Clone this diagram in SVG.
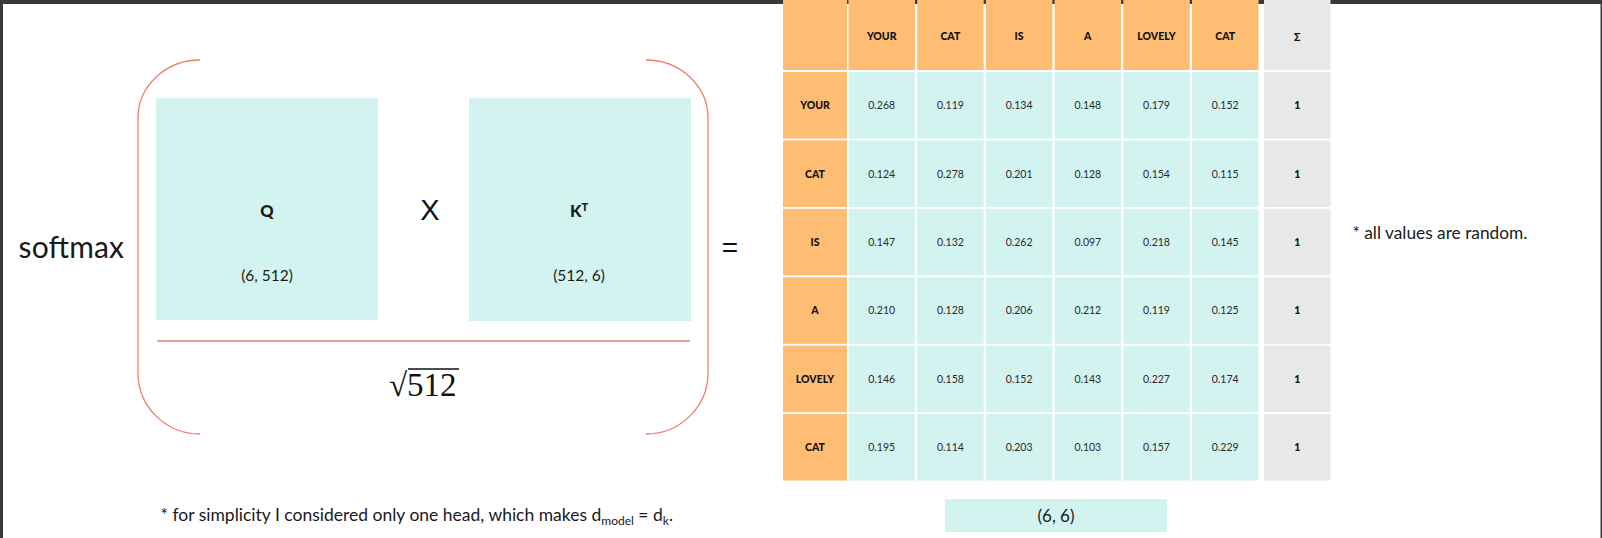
<svg xmlns="http://www.w3.org/2000/svg" width="1602" height="538" viewBox="0 0 1602 538">
<style>
.t{font-family:Lato,"Liberation Sans",sans-serif;fill:#1a1a1a}
.h{font-family:Lato,"Liberation Sans",sans-serif;font-weight:900;font-size:10.5px;fill:#111;text-anchor:middle}
.v{font-family:Lato,"Liberation Sans",sans-serif;font-size:10.5px;fill:#2a2a2a;text-anchor:middle}
.s{font-family:Lato,"Liberation Sans",sans-serif;font-weight:900;font-size:10.5px;fill:#111;text-anchor:middle}
.or{fill:#FEBD72}
.cy{fill:#D2F3F0}
.gr{fill:#E8E8E8}
.br{fill:none;stroke:#EE7F6E;stroke-width:1.3}
</style>
<rect width="1602" height="538" fill="#fff"/>
<rect x="0" y="0" width="1602" height="4" fill="#3a3a3a"/>
<rect x="0" y="0" width="3" height="538" fill="#3a3a3a"/>
<rect x="1600.5" y="0" width="1.5" height="538" fill="#3a3a3a"/>

<text class="t" x="18.5" y="257.5" font-size="30" textLength="105.5">softmax</text>

<g id="connectors">
<path class="br" d="M200,60 A62,58 0 0 0 138,118 L138,373 A62,61 0 0 0 200,434"/>
<path class="br" d="M646,60 A62,58 0 0 1 708,118 L708,373 A62,61 0 0 1 646,434"/>
<path class="br" d="M157,341 H690" stroke-width="1"/>
</g>

<g id="Q">
<rect class="cy" x="156" y="98" width="222" height="222"/>
<text class="t" x="267" y="216.5" font-size="16.5" font-weight="900" text-anchor="middle">Q</text>
<text class="t" x="267" y="281" font-size="15.5" text-anchor="middle">(6, 512)</text>
</g>
<text x="430" y="220" font-family="Liberation Sans,sans-serif" font-size="29" fill="#111" text-anchor="middle">X</text>
<g id="KT">
<rect class="cy" x="469" y="98" width="222" height="223"/>
<text class="t" x="579" y="216.5" font-size="16.5" font-weight="900" text-anchor="middle">K<tspan font-size="11" dy="-6">T</tspan></text>
<text class="t" x="579" y="281" font-size="15.5" text-anchor="middle">(512, 6)</text>
</g>
<g id="sqrt">
<text x="389" y="396" font-family="Liberation Serif,serif" font-size="33" fill="#111">√512</text>
<line x1="408" y1="369" x2="459" y2="369" stroke="#111" stroke-width="1.6"/>
</g>
<text x="730" y="257" font-family="Liberation Sans,sans-serif" font-size="28" fill="#111" text-anchor="middle">=</text>

<g id="table">
<rect class="or" x="783" y="0" width="64" height="70"/>
<rect class="or" x="848.5" y="0" width="66.5" height="70"/>
<rect class="or" x="917.2" y="0" width="66.5" height="70"/>
<rect class="or" x="985.9" y="0" width="66.5" height="70"/>
<rect class="or" x="1054.6" y="0" width="66.5" height="70"/>
<rect class="or" x="1123.3" y="0" width="66.5" height="70"/>
<rect class="or" x="1192" y="0" width="66.5" height="70"/>
<rect class="gr" x="1264" y="0" width="66.5" height="70"/>
<g>
<text class="h" x="881.7" y="40">YOUR</text>
<text class="h" x="950.4" y="40">CAT</text>
<text class="h" x="1019.1" y="40">IS</text>
<text class="h" x="1087.8" y="40">A</text>
<text class="h" x="1156.5" y="40">LOVELY</text>
<text class="h" x="1225.2" y="40">CAT</text>
<text class="h" x="1297.2" y="41" font-size="13" font-weight="400">Σ</text>
</g>

<g id="row1">
<rect class="or" x="783" y="72" width="64" height="66.6"/>
<rect class="cy" x="848.5" y="72" width="66.5" height="66.6"/><rect class="cy" x="917.2" y="72" width="66.5" height="66.6"/><rect class="cy" x="985.9" y="72" width="66.5" height="66.6"/><rect class="cy" x="1054.6" y="72" width="66.5" height="66.6"/><rect class="cy" x="1123.3" y="72" width="66.5" height="66.6"/><rect class="cy" x="1192" y="72" width="66.5" height="66.6"/>
<rect class="gr" x="1264" y="72" width="66.5" height="66.6"/>
<text class="h" x="815" y="109">YOUR</text>
<text class="v" x="881.7" y="109">0.268</text><text class="v" x="950.4" y="109">0.119</text><text class="v" x="1019.1" y="109">0.134</text><text class="v" x="1087.8" y="109">0.148</text><text class="v" x="1156.5" y="109">0.179</text><text class="v" x="1225.2" y="109">0.152</text>
<text class="s" x="1297.2" y="109">1</text>
</g>
<g id="row2">
<rect class="or" x="783" y="140.4" width="64" height="66.6"/>
<rect class="cy" x="848.5" y="140.4" width="66.5" height="66.6"/><rect class="cy" x="917.2" y="140.4" width="66.5" height="66.6"/><rect class="cy" x="985.9" y="140.4" width="66.5" height="66.6"/><rect class="cy" x="1054.6" y="140.4" width="66.5" height="66.6"/><rect class="cy" x="1123.3" y="140.4" width="66.5" height="66.6"/><rect class="cy" x="1192" y="140.4" width="66.5" height="66.6"/>
<rect class="gr" x="1264" y="140.4" width="66.5" height="66.6"/>
<text class="h" x="815" y="178">CAT</text>
<text class="v" x="881.7" y="178">0.124</text><text class="v" x="950.4" y="178">0.278</text><text class="v" x="1019.1" y="178">0.201</text><text class="v" x="1087.8" y="178">0.128</text><text class="v" x="1156.5" y="178">0.154</text><text class="v" x="1225.2" y="178">0.115</text>
<text class="s" x="1297.2" y="178">1</text>
</g>
<g id="row3">
<rect class="or" x="783" y="208.8" width="64" height="66.6"/>
<rect class="cy" x="848.5" y="208.8" width="66.5" height="66.6"/><rect class="cy" x="917.2" y="208.8" width="66.5" height="66.6"/><rect class="cy" x="985.9" y="208.8" width="66.5" height="66.6"/><rect class="cy" x="1054.6" y="208.8" width="66.5" height="66.6"/><rect class="cy" x="1123.3" y="208.8" width="66.5" height="66.6"/><rect class="cy" x="1192" y="208.8" width="66.5" height="66.6"/>
<rect class="gr" x="1264" y="208.8" width="66.5" height="66.6"/>
<text class="h" x="815" y="246">IS</text>
<text class="v" x="881.7" y="246">0.147</text><text class="v" x="950.4" y="246">0.132</text><text class="v" x="1019.1" y="246">0.262</text><text class="v" x="1087.8" y="246">0.097</text><text class="v" x="1156.5" y="246">0.218</text><text class="v" x="1225.2" y="246">0.145</text>
<text class="s" x="1297.2" y="246">1</text>
</g>
<g id="row4">
<rect class="or" x="783" y="277.2" width="64" height="66.6"/>
<rect class="cy" x="848.5" y="277.2" width="66.5" height="66.6"/><rect class="cy" x="917.2" y="277.2" width="66.5" height="66.6"/><rect class="cy" x="985.9" y="277.2" width="66.5" height="66.6"/><rect class="cy" x="1054.6" y="277.2" width="66.5" height="66.6"/><rect class="cy" x="1123.3" y="277.2" width="66.5" height="66.6"/><rect class="cy" x="1192" y="277.2" width="66.5" height="66.6"/>
<rect class="gr" x="1264" y="277.2" width="66.5" height="66.6"/>
<text class="h" x="815" y="314">A</text>
<text class="v" x="881.7" y="314">0.210</text><text class="v" x="950.4" y="314">0.128</text><text class="v" x="1019.1" y="314">0.206</text><text class="v" x="1087.8" y="314">0.212</text><text class="v" x="1156.5" y="314">0.119</text><text class="v" x="1225.2" y="314">0.125</text>
<text class="s" x="1297.2" y="314">1</text>
</g>
<g id="row5">
<rect class="or" x="783" y="345.6" width="64" height="66.6"/>
<rect class="cy" x="848.5" y="345.6" width="66.5" height="66.6"/><rect class="cy" x="917.2" y="345.6" width="66.5" height="66.6"/><rect class="cy" x="985.9" y="345.6" width="66.5" height="66.6"/><rect class="cy" x="1054.6" y="345.6" width="66.5" height="66.6"/><rect class="cy" x="1123.3" y="345.6" width="66.5" height="66.6"/><rect class="cy" x="1192" y="345.6" width="66.5" height="66.6"/>
<rect class="gr" x="1264" y="345.6" width="66.5" height="66.6"/>
<text class="h" x="815" y="383">LOVELY</text>
<text class="v" x="881.7" y="383">0.146</text><text class="v" x="950.4" y="383">0.158</text><text class="v" x="1019.1" y="383">0.152</text><text class="v" x="1087.8" y="383">0.143</text><text class="v" x="1156.5" y="383">0.227</text><text class="v" x="1225.2" y="383">0.174</text>
<text class="s" x="1297.2" y="383">1</text>
</g>
<g id="row6">
<rect class="or" x="783" y="414" width="64" height="66.6"/>
<rect class="cy" x="848.5" y="414" width="66.5" height="66.6"/><rect class="cy" x="917.2" y="414" width="66.5" height="66.6"/><rect class="cy" x="985.9" y="414" width="66.5" height="66.6"/><rect class="cy" x="1054.6" y="414" width="66.5" height="66.6"/><rect class="cy" x="1123.3" y="414" width="66.5" height="66.6"/><rect class="cy" x="1192" y="414" width="66.5" height="66.6"/>
<rect class="gr" x="1264" y="414" width="66.5" height="66.6"/>
<text class="h" x="815" y="451">CAT</text>
<text class="v" x="881.7" y="451">0.195</text><text class="v" x="950.4" y="451">0.114</text><text class="v" x="1019.1" y="451">0.203</text><text class="v" x="1087.8" y="451">0.103</text><text class="v" x="1156.5" y="451">0.157</text><text class="v" x="1225.2" y="451">0.229</text>
<text class="s" x="1297.2" y="451">1</text>
</g>
</g>

<g id="shape66">
<rect class="cy" x="945" y="499" width="222" height="33"/>
<text class="t" x="1056" y="521.5" font-size="17" text-anchor="middle">(6, 6)</text>
</g>

<text class="t" x="1352.5" y="239" font-size="17.3">* all values are random.</text>
<text class="t" x="160.5" y="521" font-size="17.5">* for simplicity I considered only one head, which makes d<tspan font-size="12" dy="4">model</tspan><tspan dy="-4"> = d</tspan><tspan font-size="12" dy="4">k</tspan><tspan dy="-4">.</tspan></text>
</svg>
